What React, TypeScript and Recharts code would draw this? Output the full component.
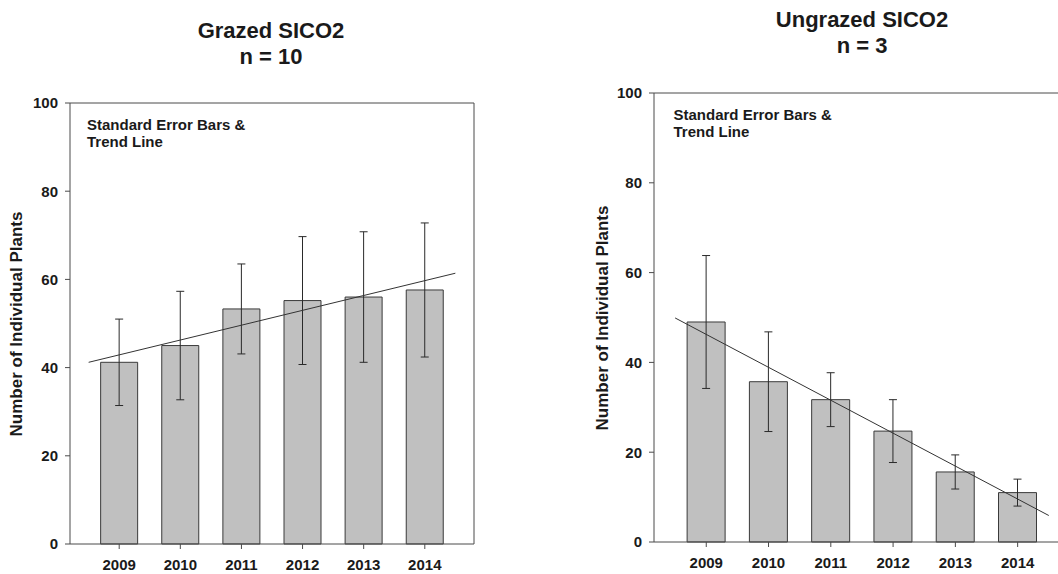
import { ComposedChart, Bar, ErrorBar, XAxis, YAxis, ReferenceLine } from 'recharts'

const years = [2009, 2010, 2011, 2012, 2013, 2014]
const grazedMean = [41.2, 45.0, 53.3, 55.2, 56.0, 57.6]
const grazedSE = [9.8, 12.3, 10.2, 14.5, 14.8, 15.2]
const ungrazedMean = [49.0, 35.7, 31.7, 24.7, 15.6, 11.0]
const ungrazedSE = [14.8, 11.1, 6.0, 7.0, 3.8, 3.0]
const trendYears = [2008.5, 2014.5]
const grazedTrend = [41.2, 61.4]
const ungrazedTrend = [49.9, 5.9]
const yTicks = [0, 20, 40, 60, 80, 100]

const FONT = "'Liberation Sans', Arial, sans-serif"
const INK = '#1a1a1a'
const AXIS = '#4a4a4a'

function Panel({ mean, se, trend, domain, width, height, margin, barSize, xAxisHeight, frameRight }: any) {
    const data = years.map((year, i) => ({ year, mean: mean[i], se: se[i] }))
    const tickStyle = { fontSize: 15, fontWeight: 'bold', fill: INK, fontFamily: FONT }
    return (
        <ComposedChart width={width} height={height} data={data} margin={margin}>
            <XAxis
                dataKey="year"
                type="number"
                domain={domain}
                ticks={years}
                allowDataOverflow
                height={xAxisHeight}
                tickSize={5}
                tickMargin={10}
                stroke={AXIS}
                tick={tickStyle}
            />
            <YAxis
                type="number"
                domain={[0, 100]}
                ticks={yTicks}
                width={60}
                tickSize={5}
                tickMargin={7}
                stroke={AXIS}
                tick={tickStyle}
            />
            <ReferenceLine y={100} stroke={AXIS} ifOverflow="visible" />
            {frameRight && <ReferenceLine x={domain[1]} stroke={AXIS} ifOverflow="visible" />}
            <Bar dataKey="mean" fill="#c0c0c0" stroke="#3a3a3a" strokeWidth={1} barSize={barSize} isAnimationActive={false}>
                <ErrorBar dataKey="se" width={4} stroke="#2a2a2a" strokeWidth={1} direction="y" />
            </Bar>
            <ReferenceLine
                segment={[
                    { x: trendYears[0], y: trend[0] },
                    { x: trendYears[1], y: trend[1] },
                ]}
                stroke="#333"
                strokeWidth={1}
                ifOverflow="visible"
            />
        </ComposedChart>
    )
}

export default function App() {
    const bold = { fontFamily: FONT, fontWeight: 'bold', fill: INK } as any
    return (
        <div style={{ position: 'absolute', left: 0, top: 0, width: 1058, height: 574, overflow: 'hidden', background: '#fff' }}>
            <div style={{ position: 'absolute', left: 0, top: 0 }}>
                <Panel
                    mean={grazedMean}
                    se={grazedSE}
                    trend={grazedTrend}
                    domain={[2008.195, 2014.805]}
                    width={529}
                    height={574}
                    margin={{ top: 103, right: 55, bottom: 0, left: 10 }}
                    barSize={37}
                    xAxisHeight={30}
                    frameRight
                />
            </div>
            <div style={{ position: 'absolute', left: 560, top: 0 }}>
                <Panel
                    mean={ungrazedMean}
                    se={ungrazedSE}
                    trend={ungrazedTrend}
                    domain={[2008.161, 2014.648]}
                    width={498}
                    height={574}
                    margin={{ top: 93, right: 0, bottom: 0, left: 34 }}
                    barSize={38}
                    xAxisHeight={32}
                    frameRight={false}
                />
            </div>
            <svg width={1058} height={574} style={{ position: 'absolute', left: 0, top: 0, pointerEvents: 'none' }}>
                <text {...bold} fontSize={22} x={271} y={38} textAnchor="middle">Grazed SICO2</text>
                <text {...bold} fontSize={22} x={271} y={64} textAnchor="middle">n = 10</text>
                <text {...bold} fontSize={22} x={862} y={26.5} textAnchor="middle">Ungrazed SICO2</text>
                <text {...bold} fontSize={22} x={862} y={52.5} textAnchor="middle">n = 3</text>

                <text {...bold} fontSize={15} x={87} y={129.5}>Standard Error Bars &amp;</text>
                <text {...bold} fontSize={15} x={87} y={147}>Trend Line</text>
                <text {...bold} fontSize={15} x={673.5} y={119.5}>Standard Error Bars &amp;</text>
                <text {...bold} fontSize={15} x={673.5} y={137}>Trend Line</text>

                <text {...bold} fontSize={17} x={22} y={324} textAnchor="middle" transform="rotate(-90 22 324)">
                    Number of Individual Plants
                </text>
                <text {...bold} fontSize={17} x={608} y={318} textAnchor="middle" transform="rotate(-90 608 318)">
                    Number of Individual Plants
                </text>
            </svg>
        </div>
    )
}
